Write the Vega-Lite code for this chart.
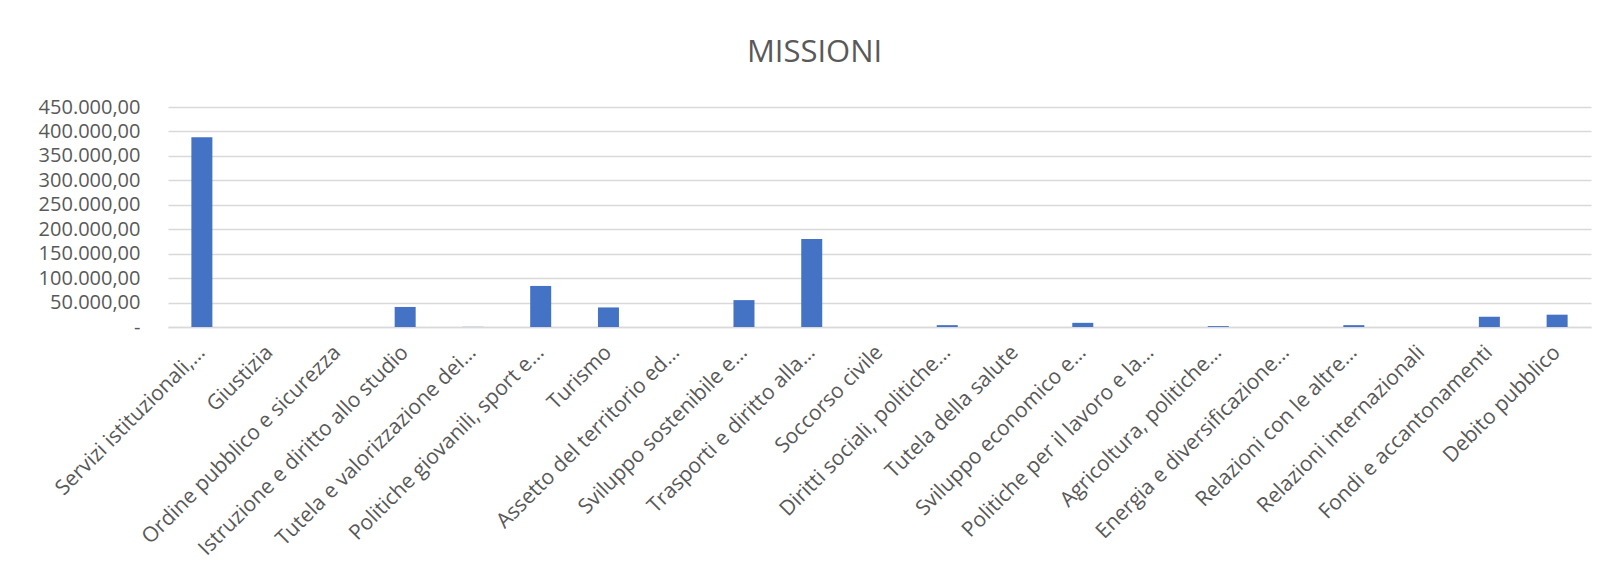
{
  "$schema": "https://vega.github.io/schema/vega-lite/v6.json",
  "autosize": {"type": "none"},
  "width": 1423,
  "height": 220,
  "padding": {"left": 168, "top": 107, "right": 27, "bottom": 254},
  "background": "white",
  "title": {
    "text": "MISSIONI",
    "font": "Open Sans",
    "fontSize": 31,
    "fontWeight": "normal",
    "color": "#595959",
    "anchor": "middle",
    "frame": "bounds",
    "baseline": "alphabetic",
    "offset": 4
  },
  "data": {
    "values": [
      {"missione": "Servizi istituzionali,…", "importo": 388000},
      {"missione": "Giustizia", "importo": 0},
      {"missione": "Ordine pubblico e sicurezza", "importo": 0},
      {"missione": "Istruzione e diritto allo studio", "importo": 41000},
      {"missione": "Tutela e valorizzazione dei…", "importo": 300},
      {"missione": "Politiche giovanili, sport e…", "importo": 84000},
      {"missione": "Turismo", "importo": 40000},
      {"missione": "Assetto del territorio ed…", "importo": 0},
      {"missione": "Sviluppo sostenibile e…", "importo": 55000},
      {"missione": "Trasporti e diritto alla…", "importo": 180000},
      {"missione": "Soccorso civile", "importo": 0},
      {"missione": "Diritti sociali, politiche…", "importo": 3800},
      {"missione": "Tutela della salute", "importo": 0},
      {"missione": "Sviluppo economico e…", "importo": 8500},
      {"missione": "Politiche per il lavoro e la…", "importo": 0},
      {"missione": "Agricoltura, politiche…", "importo": 1800},
      {"missione": "Energia e diversificazione…", "importo": 0},
      {"missione": "Relazioni con le altre…", "importo": 3800},
      {"missione": "Relazioni internazionali", "importo": 0},
      {"missione": "Fondi e accantonamenti", "importo": 21000},
      {"missione": "Debito pubblico", "importo": 25200}
    ]
  },
  "mark": {"type": "bar", "color": "#4472C4"},
  "encoding": {
    "x": {
      "field": "missione",
      "type": "nominal",
      "sort": null,
      "scale": {"paddingInner": 0.69, "paddingOuter": 0.345},
      "axis": {
        "title": null,
        "labelAngle": -45,
        "labelAlign": "right",
        "labelBaseline": "middle",
        "labelPadding": 22,
        "labelFont": "Open Sans",
        "labelFontSize": 21,
        "labelColor": "#595959",
        "labelLimit": 0,
        "ticks": false,
        "domainColor": "#D9D9D9",
        "domainWidth": 1.5,
        "grid": false
      }
    },
    "y": {
      "field": "importo",
      "type": "quantitative",
      "scale": {"domain": [0, 450000], "nice": false},
      "axis": {
        "title": null,
        "values": [0, 50000, 100000, 150000, 200000, 250000, 300000, 350000, 400000, 450000],
        "labelExpr": "datum.value == 0 ? '-  ' : replace(format(datum.value, ','), regexp(',', 'g'), '.') + ',00'",
        "labelFont": "Open Sans",
        "labelFontSize": 20,
        "labelColor": "#595959",
        "labelPadding": 28,
        "ticks": false,
        "domain": false,
        "grid": true,
        "gridColor": "#D9D9D9",
        "gridWidth": 1.5
      }
    }
  },
  "config": {
    "view": {"stroke": null}
  }
}
